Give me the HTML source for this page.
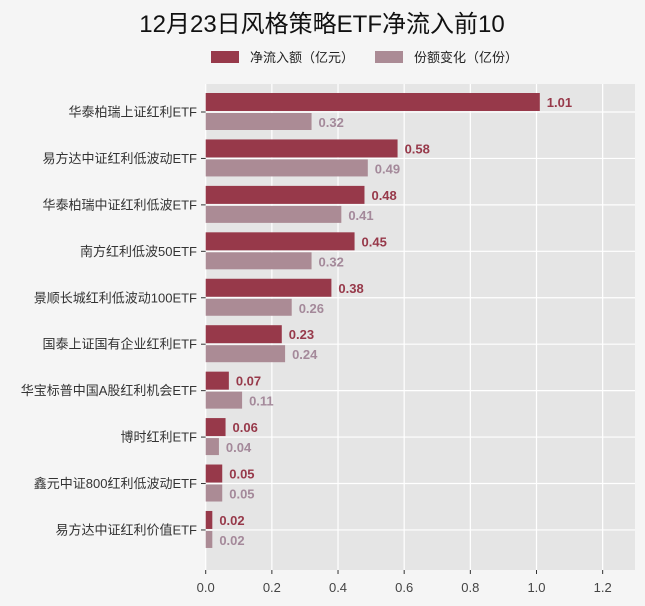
<!DOCTYPE html>
<html><head><meta charset="utf-8"><style>
body{margin:0;background:#f5f5f5;font-family:"Liberation Sans","Noto Sans CJK SC",sans-serif;}
</style></head><body>
<svg width="645" height="606" viewBox="0 0 645 606" id="c" style="display:block">
<rect x="0" y="0" width="645" height="606" fill="#f5f5f5"/>
<text x="322" y="32" text-anchor="middle" font-size="24" fill="#111">12月23日风格策略ETF净流入前10</text>
<g>
<rect x="211" y="51" width="28" height="12" fill="#97394a"/>
<text x="250" y="62" font-size="13" fill="#222">净流入额（亿元）</text>
<rect x="375" y="51" width="28" height="12" fill="#ab8b95"/>
<text x="414" y="62" font-size="13" fill="#222">份额变化（亿份）</text>
</g>
<rect x="205.7" y="84" width="429.3" height="486" fill="#e5e5e5"/>
<g id="g"></g>
</svg>
<script>
const categories=["华泰柏瑞上证红利ETF","易方达中证红利低波动ETF","华泰柏瑞中证红利低波ETF","南方红利低波50ETF","景顺长城红利低波动100ETF","国泰上证国有企业红利ETF","华宝标普中国A股红利机会ETF","博时红利ETF","鑫元中证800红利低波动ETF","易方达中证红利价值ETF"];
const inflow=[1.01,0.58,0.48,0.45,0.38,0.23,0.07,0.06,0.05,0.02];
const shareChange=[0.32,0.49,0.41,0.32,0.26,0.24,0.11,0.04,0.05,0.02];
const xTicks=[0,0.2,0.4,0.6,0.8,1.0,1.2];
const NS="http://www.w3.org/2000/svg";
const g=document.getElementById('g');
const x=v=>205.7+v*330.8;
const y=i=>112+i*46.44;
function mk(t,a){const e=document.createElementNS(NS,t);for(const k in a)e.setAttribute(k,a[k]);g.appendChild(e);return e;}
xTicks.forEach(t=>{
 const l=mk('line',{x1:x(t),x2:x(t),y1:84,y2:570,stroke:'#fff','stroke-width':1.2});
 
 
 const tk=mk('line',{x1:x(t),x2:x(t),y1:570,y2:574,stroke:'#333'});
 
 
 const tx=mk('text',{x:x(t),y:592,'text-anchor':'middle','font-size':13,fill:'#444'});
 tx.textContent=t.toFixed(1);
 
 
});
categories.forEach((c,i)=>{
 const cy=y(i);
 const hl=mk('line',{x1:205.7,x2:635,y1:cy,y2:cy,stroke:'#fff','stroke-width':1.2});
 
 
 const tk=mk('line',{x1:201,x2:205.7,y1:cy,y2:cy,stroke:'#333'});
 
 
 const lb=mk('text',{x:197,y:cy+4.5,'text-anchor':'end','font-size':13,fill:'#333'});
 lb.textContent=c;
 
 
 const b1=mk('rect',{x:205.7,y:cy-19,width:x(inflow[i])-205.7,height:18,fill:'#97394a'});
 
 
 const t1=mk('text',{x:x(inflow[i])+7,y:cy-5,'font-size':13,'font-weight':'bold',fill:'#97394a'});
 t1.textContent=inflow[i].toFixed(2);
 
 
 const b2=mk('rect',{x:205.7,y:cy+1,width:x(shareChange[i])-205.7,height:17,fill:'#ab8b95'});
 
 
 const t2=mk('text',{x:x(shareChange[i])+7,y:cy+15,'font-size':13,'font-weight':'bold',fill:'#a4899a'});
 t2.textContent=shareChange[i].toFixed(2);
 
 
});
</script>
</body></html>
